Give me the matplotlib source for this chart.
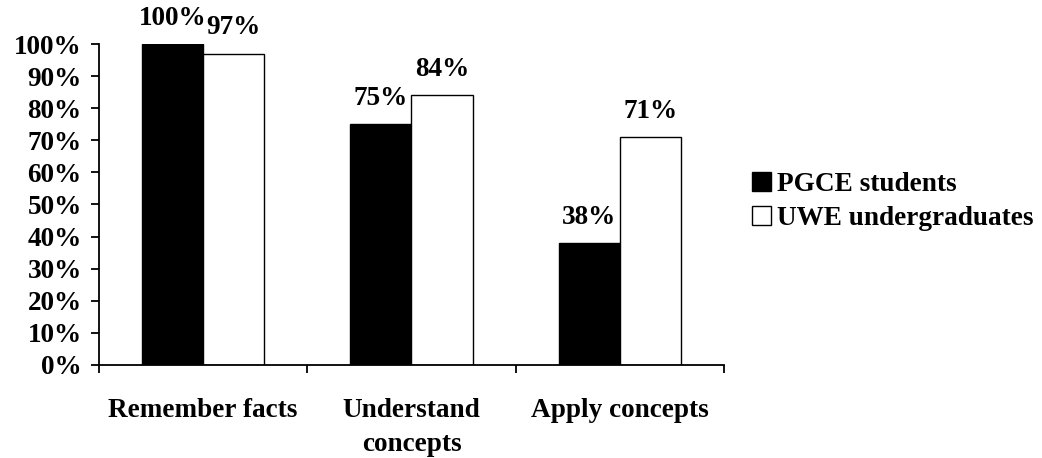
import matplotlib
matplotlib.use("Agg")
import matplotlib.pyplot as plt
import numpy as np
from matplotlib.patches import Patch

categories = ["Remember facts", "Understand\nconcepts", "Apply concepts"]
pgce = [100, 75, 38]
uwe = [97, 84, 71]
series_names = ["PGCE students", "UWE undergraduates"]
ytick_values = list(range(0, 101, 10))

plt.rcParams["font.family"] = ["Liberation Serif", "DejaVu Serif"]
plt.rcParams["font.weight"] = "bold"
FS = 19.6

fig = plt.figure(figsize=(10.42, 4.58), dpi=100)
ax = fig.add_axes([0.095, 0.2031, 0.5998, 0.7008])

x = np.arange(len(categories))
w = 0.293
b1 = ax.bar(x - w / 2, pgce, width=w, color="black", edgecolor="black", linewidth=1.0)
b2 = ax.bar(x + w / 2, uwe, width=w, color="white", edgecolor="black", linewidth=1.0)

for bars, vals in ((b1, pgce), (b2, uwe)):
    for rect, v in zip(bars, vals):
        ax.annotate(f"{v}%", (rect.get_x() + rect.get_width() / 2, v),
                    xytext=(0, 14), textcoords="offset points",
                    ha="center", va="baseline", fontsize=FS, fontweight="bold")

ax.set_xlim(-0.5, len(categories) - 0.5)
ax.set_ylim(0, 100)
ax.set_yticks(ytick_values)
ax.set_yticklabels([f"{v}%" for v in ytick_values], fontsize=FS, fontweight="bold")
ax.tick_params(axis="y", direction="out", length=6, width=1.3, pad=6.5)

ax.set_xticks(x)
ax.set_xticklabels(categories, fontsize=FS, fontweight="bold", linespacing=1.52)
ax.tick_params(axis="x", which="major", length=0, pad=23.5)
ax.set_xticks(np.arange(-0.5, len(categories), 1.0), minor=True)
ax.tick_params(axis="x", which="minor", direction="out", length=6, width=1.3)

for s in ("top", "right"):
    ax.spines[s].set_visible(False)
for s in ("left", "bottom"):
    ax.spines[s].set_linewidth(1.3)

handles = [Patch(facecolor="black", edgecolor="black", linewidth=1.0),
           Patch(facecolor="white", edgecolor="black", linewidth=1.0)]
fig.legend(handles, series_names, loc="center left", bbox_to_anchor=(0.722, 0.56),
           frameon=False, borderpad=0, borderaxespad=0, handlelength=0.7,
           handleheight=0.7, handletextpad=0.2, labelspacing=0.36,
           prop={"size": FS, "weight": "bold"})

fig.savefig("out.png", dpi=100)
